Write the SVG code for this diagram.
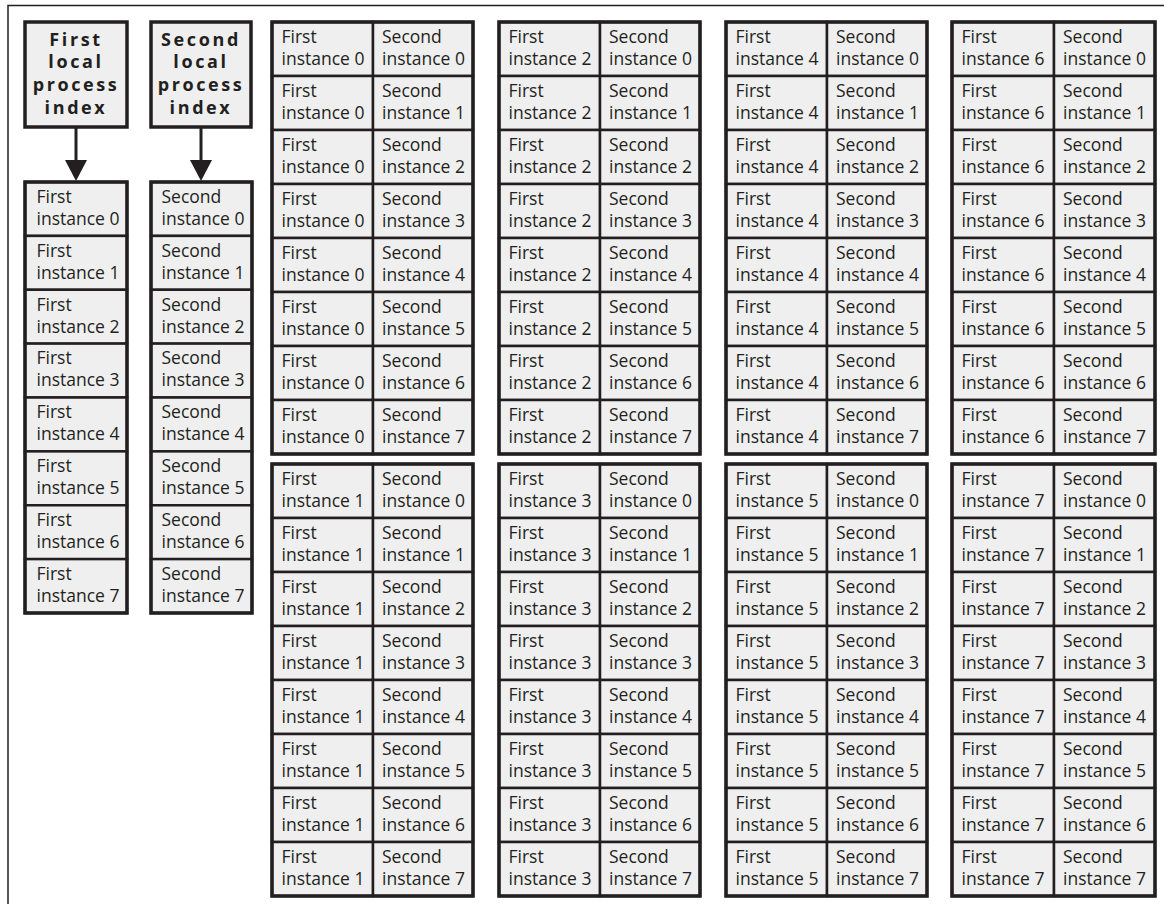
<svg xmlns="http://www.w3.org/2000/svg" width="1164" height="904" viewBox="0 0 1164 904">
<style>
.c{fill:#efefef;stroke:#231f20;stroke-width:2.5}
.f{fill:none;stroke:#231f20;stroke-width:3.5}
.t{font-family:"Open Sans","Liberation Sans",sans-serif;font-size:17.5px;fill:#231f20}
.h{font-family:"Open Sans","Liberation Sans",sans-serif;font-size:18px;font-weight:bold;letter-spacing:2.6px;text-anchor:middle;fill:#231f20}
.w{stroke:#231f20;stroke-width:3;fill:none}
</style>
<rect width="1164" height="904" fill="#ffffff"/>
<!-- page frame -->
<path d="M8,904 V5.5 H1164" fill="none" stroke="#231f20" stroke-width="1.5"/>

<!-- index headers -->
<g id="first-index"><rect class="c" x="25" y="22" width="102" height="105" style="stroke-width:3.5"/><text class="h" x="76" y="45.5">First<tspan x="76" dy="22.9">local</tspan><tspan x="76" dy="22.9">process</tspan><tspan x="76" dy="22.9">index</tspan></text></g>
<g id="second-index"><rect class="c" x="151" y="22" width="100" height="105" style="stroke-width:3.5"/><text class="h" x="201" y="45.5">Second<tspan x="201" dy="22.9">local</tspan><tspan x="201" dy="22.9">process</tspan><tspan x="201" dy="22.9">index</tspan></text></g>

<!-- connectors -->
<g id="connectors">
<line class="w" x1="76" y1="127" x2="76" y2="164"/><polygon points="65,160 87,160 76,181" fill="#231f20"/>
<line class="w" x1="201" y1="127" x2="201" y2="164"/><polygon points="190,160 212,160 201,181" fill="#231f20"/>
</g>

<!-- first instance column -->
<g id="first-list">
<g id="f0"><rect class="c" x="25" y="182" width="102" height="53.9"/><text class="t" x="36.5" y="202.8">First<tspan x="36.5" dy="22">instance 0</tspan></text></g>
<g id="f1"><rect class="c" x="25" y="235.9" width="102" height="53.9"/><text class="t" x="36.5" y="256.7">First<tspan x="36.5" dy="22">instance 1</tspan></text></g>
<g id="f2"><rect class="c" x="25" y="289.75" width="102" height="53.9"/><text class="t" x="36.5" y="310.6">First<tspan x="36.5" dy="22">instance 2</tspan></text></g>
<g id="f3"><rect class="c" x="25" y="343.6" width="102" height="53.9"/><text class="t" x="36.5" y="364.4">First<tspan x="36.5" dy="22">instance 3</tspan></text></g>
<g id="f4"><rect class="c" x="25" y="397.5" width="102" height="53.9"/><text class="t" x="36.5" y="418.3">First<tspan x="36.5" dy="22">instance 4</tspan></text></g>
<g id="f5"><rect class="c" x="25" y="451.4" width="102" height="53.9"/><text class="t" x="36.5" y="472.2">First<tspan x="36.5" dy="22">instance 5</tspan></text></g>
<g id="f6"><rect class="c" x="25" y="505.25" width="102" height="53.9"/><text class="t" x="36.5" y="526.1">First<tspan x="36.5" dy="22">instance 6</tspan></text></g>
<g id="f7"><rect class="c" x="25" y="559.1" width="102" height="53.9"/><text class="t" x="36.5" y="579.9">First<tspan x="36.5" dy="22">instance 7</tspan></text></g>
<rect class="f" x="25" y="182" width="102" height="431"/>
</g>

<!-- second instance column -->
<g id="second-list">
<g id="s0"><rect class="c" x="151" y="182" width="101" height="53.9"/><text class="t" x="161.5" y="202.8">Second<tspan x="161.5" dy="22">instance 0</tspan></text></g>
<g id="s1"><rect class="c" x="151" y="235.9" width="101" height="53.9"/><text class="t" x="161.5" y="256.7">Second<tspan x="161.5" dy="22">instance 1</tspan></text></g>
<g id="s2"><rect class="c" x="151" y="289.75" width="101" height="53.9"/><text class="t" x="161.5" y="310.6">Second<tspan x="161.5" dy="22">instance 2</tspan></text></g>
<g id="s3"><rect class="c" x="151" y="343.6" width="101" height="53.9"/><text class="t" x="161.5" y="364.4">Second<tspan x="161.5" dy="22">instance 3</tspan></text></g>
<g id="s4"><rect class="c" x="151" y="397.5" width="101" height="53.9"/><text class="t" x="161.5" y="418.3">Second<tspan x="161.5" dy="22">instance 4</tspan></text></g>
<g id="s5"><rect class="c" x="151" y="451.4" width="101" height="53.9"/><text class="t" x="161.5" y="472.2">Second<tspan x="161.5" dy="22">instance 5</tspan></text></g>
<g id="s6"><rect class="c" x="151" y="505.25" width="101" height="53.9"/><text class="t" x="161.5" y="526.1">Second<tspan x="161.5" dy="22">instance 6</tspan></text></g>
<g id="s7"><rect class="c" x="151" y="559.1" width="101" height="53.9"/><text class="t" x="161.5" y="579.9">Second<tspan x="161.5" dy="22">instance 7</tspan></text></g>
<rect class="f" x="151" y="182" width="101" height="431"/>
</g>

<!-- pair block: first instance 0 -->
<g id="pairs-0">
<g id="p0-0"><rect class="c" x="272" y="22" width="101" height="54"/><rect class="c" x="373" y="22" width="100" height="54"/><text class="t" x="281.5" y="43.3">First<tspan x="281.5" dy="22">instance 0</tspan></text><text class="t" x="382" y="43.3">Second<tspan x="382" dy="22">instance 0</tspan></text></g>
<g id="p0-1"><rect class="c" x="272" y="76" width="101" height="54"/><rect class="c" x="373" y="76" width="100" height="54"/><text class="t" x="281.5" y="97.3">First<tspan x="281.5" dy="22">instance 0</tspan></text><text class="t" x="382" y="97.3">Second<tspan x="382" dy="22">instance 1</tspan></text></g>
<g id="p0-2"><rect class="c" x="272" y="130" width="101" height="54"/><rect class="c" x="373" y="130" width="100" height="54"/><text class="t" x="281.5" y="151.3">First<tspan x="281.5" dy="22">instance 0</tspan></text><text class="t" x="382" y="151.3">Second<tspan x="382" dy="22">instance 2</tspan></text></g>
<g id="p0-3"><rect class="c" x="272" y="184" width="101" height="54"/><rect class="c" x="373" y="184" width="100" height="54"/><text class="t" x="281.5" y="205.3">First<tspan x="281.5" dy="22">instance 0</tspan></text><text class="t" x="382" y="205.3">Second<tspan x="382" dy="22">instance 3</tspan></text></g>
<g id="p0-4"><rect class="c" x="272" y="238" width="101" height="54"/><rect class="c" x="373" y="238" width="100" height="54"/><text class="t" x="281.5" y="259.3">First<tspan x="281.5" dy="22">instance 0</tspan></text><text class="t" x="382" y="259.3">Second<tspan x="382" dy="22">instance 4</tspan></text></g>
<g id="p0-5"><rect class="c" x="272" y="292" width="101" height="54"/><rect class="c" x="373" y="292" width="100" height="54"/><text class="t" x="281.5" y="313.3">First<tspan x="281.5" dy="22">instance 0</tspan></text><text class="t" x="382" y="313.3">Second<tspan x="382" dy="22">instance 5</tspan></text></g>
<g id="p0-6"><rect class="c" x="272" y="346" width="101" height="54"/><rect class="c" x="373" y="346" width="100" height="54"/><text class="t" x="281.5" y="367.3">First<tspan x="281.5" dy="22">instance 0</tspan></text><text class="t" x="382" y="367.3">Second<tspan x="382" dy="22">instance 6</tspan></text></g>
<g id="p0-7"><rect class="c" x="272" y="400" width="101" height="54"/><rect class="c" x="373" y="400" width="100" height="54"/><text class="t" x="281.5" y="421.3">First<tspan x="281.5" dy="22">instance 0</tspan></text><text class="t" x="382" y="421.3">Second<tspan x="382" dy="22">instance 7</tspan></text></g>
<rect class="f" x="272" y="22" width="201" height="432"/>
</g>

<!-- pair block: first instance 1 -->
<g id="pairs-1">
<g id="p1-0"><rect class="c" x="272" y="464" width="101" height="54"/><rect class="c" x="373" y="464" width="100" height="54"/><text class="t" x="281.5" y="485.3">First<tspan x="281.5" dy="22">instance 1</tspan></text><text class="t" x="382" y="485.3">Second<tspan x="382" dy="22">instance 0</tspan></text></g>
<g id="p1-1"><rect class="c" x="272" y="518" width="101" height="54"/><rect class="c" x="373" y="518" width="100" height="54"/><text class="t" x="281.5" y="539.3">First<tspan x="281.5" dy="22">instance 1</tspan></text><text class="t" x="382" y="539.3">Second<tspan x="382" dy="22">instance 1</tspan></text></g>
<g id="p1-2"><rect class="c" x="272" y="572" width="101" height="54"/><rect class="c" x="373" y="572" width="100" height="54"/><text class="t" x="281.5" y="593.3">First<tspan x="281.5" dy="22">instance 1</tspan></text><text class="t" x="382" y="593.3">Second<tspan x="382" dy="22">instance 2</tspan></text></g>
<g id="p1-3"><rect class="c" x="272" y="626" width="101" height="54"/><rect class="c" x="373" y="626" width="100" height="54"/><text class="t" x="281.5" y="647.3">First<tspan x="281.5" dy="22">instance 1</tspan></text><text class="t" x="382" y="647.3">Second<tspan x="382" dy="22">instance 3</tspan></text></g>
<g id="p1-4"><rect class="c" x="272" y="680" width="101" height="54"/><rect class="c" x="373" y="680" width="100" height="54"/><text class="t" x="281.5" y="701.3">First<tspan x="281.5" dy="22">instance 1</tspan></text><text class="t" x="382" y="701.3">Second<tspan x="382" dy="22">instance 4</tspan></text></g>
<g id="p1-5"><rect class="c" x="272" y="734" width="101" height="54"/><rect class="c" x="373" y="734" width="100" height="54"/><text class="t" x="281.5" y="755.3">First<tspan x="281.5" dy="22">instance 1</tspan></text><text class="t" x="382" y="755.3">Second<tspan x="382" dy="22">instance 5</tspan></text></g>
<g id="p1-6"><rect class="c" x="272" y="788" width="101" height="54"/><rect class="c" x="373" y="788" width="100" height="54"/><text class="t" x="281.5" y="809.3">First<tspan x="281.5" dy="22">instance 1</tspan></text><text class="t" x="382" y="809.3">Second<tspan x="382" dy="22">instance 6</tspan></text></g>
<g id="p1-7"><rect class="c" x="272" y="842" width="101" height="54"/><rect class="c" x="373" y="842" width="100" height="54"/><text class="t" x="281.5" y="863.3">First<tspan x="281.5" dy="22">instance 1</tspan></text><text class="t" x="382" y="863.3">Second<tspan x="382" dy="22">instance 7</tspan></text></g>
<rect class="f" x="272" y="464" width="201" height="432"/>
</g>

<!-- pair block: first instance 2 -->
<g id="pairs-2">
<g id="p2-0"><rect class="c" x="499" y="22" width="101" height="54"/><rect class="c" x="600" y="22" width="100" height="54"/><text class="t" x="508.5" y="43.3">First<tspan x="508.5" dy="22">instance 2</tspan></text><text class="t" x="609" y="43.3">Second<tspan x="609" dy="22">instance 0</tspan></text></g>
<g id="p2-1"><rect class="c" x="499" y="76" width="101" height="54"/><rect class="c" x="600" y="76" width="100" height="54"/><text class="t" x="508.5" y="97.3">First<tspan x="508.5" dy="22">instance 2</tspan></text><text class="t" x="609" y="97.3">Second<tspan x="609" dy="22">instance 1</tspan></text></g>
<g id="p2-2"><rect class="c" x="499" y="130" width="101" height="54"/><rect class="c" x="600" y="130" width="100" height="54"/><text class="t" x="508.5" y="151.3">First<tspan x="508.5" dy="22">instance 2</tspan></text><text class="t" x="609" y="151.3">Second<tspan x="609" dy="22">instance 2</tspan></text></g>
<g id="p2-3"><rect class="c" x="499" y="184" width="101" height="54"/><rect class="c" x="600" y="184" width="100" height="54"/><text class="t" x="508.5" y="205.3">First<tspan x="508.5" dy="22">instance 2</tspan></text><text class="t" x="609" y="205.3">Second<tspan x="609" dy="22">instance 3</tspan></text></g>
<g id="p2-4"><rect class="c" x="499" y="238" width="101" height="54"/><rect class="c" x="600" y="238" width="100" height="54"/><text class="t" x="508.5" y="259.3">First<tspan x="508.5" dy="22">instance 2</tspan></text><text class="t" x="609" y="259.3">Second<tspan x="609" dy="22">instance 4</tspan></text></g>
<g id="p2-5"><rect class="c" x="499" y="292" width="101" height="54"/><rect class="c" x="600" y="292" width="100" height="54"/><text class="t" x="508.5" y="313.3">First<tspan x="508.5" dy="22">instance 2</tspan></text><text class="t" x="609" y="313.3">Second<tspan x="609" dy="22">instance 5</tspan></text></g>
<g id="p2-6"><rect class="c" x="499" y="346" width="101" height="54"/><rect class="c" x="600" y="346" width="100" height="54"/><text class="t" x="508.5" y="367.3">First<tspan x="508.5" dy="22">instance 2</tspan></text><text class="t" x="609" y="367.3">Second<tspan x="609" dy="22">instance 6</tspan></text></g>
<g id="p2-7"><rect class="c" x="499" y="400" width="101" height="54"/><rect class="c" x="600" y="400" width="100" height="54"/><text class="t" x="508.5" y="421.3">First<tspan x="508.5" dy="22">instance 2</tspan></text><text class="t" x="609" y="421.3">Second<tspan x="609" dy="22">instance 7</tspan></text></g>
<rect class="f" x="499" y="22" width="201" height="432"/>
</g>

<!-- pair block: first instance 3 -->
<g id="pairs-3">
<g id="p3-0"><rect class="c" x="499" y="464" width="101" height="54"/><rect class="c" x="600" y="464" width="100" height="54"/><text class="t" x="508.5" y="485.3">First<tspan x="508.5" dy="22">instance 3</tspan></text><text class="t" x="609" y="485.3">Second<tspan x="609" dy="22">instance 0</tspan></text></g>
<g id="p3-1"><rect class="c" x="499" y="518" width="101" height="54"/><rect class="c" x="600" y="518" width="100" height="54"/><text class="t" x="508.5" y="539.3">First<tspan x="508.5" dy="22">instance 3</tspan></text><text class="t" x="609" y="539.3">Second<tspan x="609" dy="22">instance 1</tspan></text></g>
<g id="p3-2"><rect class="c" x="499" y="572" width="101" height="54"/><rect class="c" x="600" y="572" width="100" height="54"/><text class="t" x="508.5" y="593.3">First<tspan x="508.5" dy="22">instance 3</tspan></text><text class="t" x="609" y="593.3">Second<tspan x="609" dy="22">instance 2</tspan></text></g>
<g id="p3-3"><rect class="c" x="499" y="626" width="101" height="54"/><rect class="c" x="600" y="626" width="100" height="54"/><text class="t" x="508.5" y="647.3">First<tspan x="508.5" dy="22">instance 3</tspan></text><text class="t" x="609" y="647.3">Second<tspan x="609" dy="22">instance 3</tspan></text></g>
<g id="p3-4"><rect class="c" x="499" y="680" width="101" height="54"/><rect class="c" x="600" y="680" width="100" height="54"/><text class="t" x="508.5" y="701.3">First<tspan x="508.5" dy="22">instance 3</tspan></text><text class="t" x="609" y="701.3">Second<tspan x="609" dy="22">instance 4</tspan></text></g>
<g id="p3-5"><rect class="c" x="499" y="734" width="101" height="54"/><rect class="c" x="600" y="734" width="100" height="54"/><text class="t" x="508.5" y="755.3">First<tspan x="508.5" dy="22">instance 3</tspan></text><text class="t" x="609" y="755.3">Second<tspan x="609" dy="22">instance 5</tspan></text></g>
<g id="p3-6"><rect class="c" x="499" y="788" width="101" height="54"/><rect class="c" x="600" y="788" width="100" height="54"/><text class="t" x="508.5" y="809.3">First<tspan x="508.5" dy="22">instance 3</tspan></text><text class="t" x="609" y="809.3">Second<tspan x="609" dy="22">instance 6</tspan></text></g>
<g id="p3-7"><rect class="c" x="499" y="842" width="101" height="54"/><rect class="c" x="600" y="842" width="100" height="54"/><text class="t" x="508.5" y="863.3">First<tspan x="508.5" dy="22">instance 3</tspan></text><text class="t" x="609" y="863.3">Second<tspan x="609" dy="22">instance 7</tspan></text></g>
<rect class="f" x="499" y="464" width="201" height="432"/>
</g>

<!-- pair block: first instance 4 -->
<g id="pairs-4">
<g id="p4-0"><rect class="c" x="726" y="22" width="101" height="54"/><rect class="c" x="827" y="22" width="100" height="54"/><text class="t" x="735.5" y="43.3">First<tspan x="735.5" dy="22">instance 4</tspan></text><text class="t" x="836" y="43.3">Second<tspan x="836" dy="22">instance 0</tspan></text></g>
<g id="p4-1"><rect class="c" x="726" y="76" width="101" height="54"/><rect class="c" x="827" y="76" width="100" height="54"/><text class="t" x="735.5" y="97.3">First<tspan x="735.5" dy="22">instance 4</tspan></text><text class="t" x="836" y="97.3">Second<tspan x="836" dy="22">instance 1</tspan></text></g>
<g id="p4-2"><rect class="c" x="726" y="130" width="101" height="54"/><rect class="c" x="827" y="130" width="100" height="54"/><text class="t" x="735.5" y="151.3">First<tspan x="735.5" dy="22">instance 4</tspan></text><text class="t" x="836" y="151.3">Second<tspan x="836" dy="22">instance 2</tspan></text></g>
<g id="p4-3"><rect class="c" x="726" y="184" width="101" height="54"/><rect class="c" x="827" y="184" width="100" height="54"/><text class="t" x="735.5" y="205.3">First<tspan x="735.5" dy="22">instance 4</tspan></text><text class="t" x="836" y="205.3">Second<tspan x="836" dy="22">instance 3</tspan></text></g>
<g id="p4-4"><rect class="c" x="726" y="238" width="101" height="54"/><rect class="c" x="827" y="238" width="100" height="54"/><text class="t" x="735.5" y="259.3">First<tspan x="735.5" dy="22">instance 4</tspan></text><text class="t" x="836" y="259.3">Second<tspan x="836" dy="22">instance 4</tspan></text></g>
<g id="p4-5"><rect class="c" x="726" y="292" width="101" height="54"/><rect class="c" x="827" y="292" width="100" height="54"/><text class="t" x="735.5" y="313.3">First<tspan x="735.5" dy="22">instance 4</tspan></text><text class="t" x="836" y="313.3">Second<tspan x="836" dy="22">instance 5</tspan></text></g>
<g id="p4-6"><rect class="c" x="726" y="346" width="101" height="54"/><rect class="c" x="827" y="346" width="100" height="54"/><text class="t" x="735.5" y="367.3">First<tspan x="735.5" dy="22">instance 4</tspan></text><text class="t" x="836" y="367.3">Second<tspan x="836" dy="22">instance 6</tspan></text></g>
<g id="p4-7"><rect class="c" x="726" y="400" width="101" height="54"/><rect class="c" x="827" y="400" width="100" height="54"/><text class="t" x="735.5" y="421.3">First<tspan x="735.5" dy="22">instance 4</tspan></text><text class="t" x="836" y="421.3">Second<tspan x="836" dy="22">instance 7</tspan></text></g>
<rect class="f" x="726" y="22" width="201" height="432"/>
</g>

<!-- pair block: first instance 5 -->
<g id="pairs-5">
<g id="p5-0"><rect class="c" x="726" y="464" width="101" height="54"/><rect class="c" x="827" y="464" width="100" height="54"/><text class="t" x="735.5" y="485.3">First<tspan x="735.5" dy="22">instance 5</tspan></text><text class="t" x="836" y="485.3">Second<tspan x="836" dy="22">instance 0</tspan></text></g>
<g id="p5-1"><rect class="c" x="726" y="518" width="101" height="54"/><rect class="c" x="827" y="518" width="100" height="54"/><text class="t" x="735.5" y="539.3">First<tspan x="735.5" dy="22">instance 5</tspan></text><text class="t" x="836" y="539.3">Second<tspan x="836" dy="22">instance 1</tspan></text></g>
<g id="p5-2"><rect class="c" x="726" y="572" width="101" height="54"/><rect class="c" x="827" y="572" width="100" height="54"/><text class="t" x="735.5" y="593.3">First<tspan x="735.5" dy="22">instance 5</tspan></text><text class="t" x="836" y="593.3">Second<tspan x="836" dy="22">instance 2</tspan></text></g>
<g id="p5-3"><rect class="c" x="726" y="626" width="101" height="54"/><rect class="c" x="827" y="626" width="100" height="54"/><text class="t" x="735.5" y="647.3">First<tspan x="735.5" dy="22">instance 5</tspan></text><text class="t" x="836" y="647.3">Second<tspan x="836" dy="22">instance 3</tspan></text></g>
<g id="p5-4"><rect class="c" x="726" y="680" width="101" height="54"/><rect class="c" x="827" y="680" width="100" height="54"/><text class="t" x="735.5" y="701.3">First<tspan x="735.5" dy="22">instance 5</tspan></text><text class="t" x="836" y="701.3">Second<tspan x="836" dy="22">instance 4</tspan></text></g>
<g id="p5-5"><rect class="c" x="726" y="734" width="101" height="54"/><rect class="c" x="827" y="734" width="100" height="54"/><text class="t" x="735.5" y="755.3">First<tspan x="735.5" dy="22">instance 5</tspan></text><text class="t" x="836" y="755.3">Second<tspan x="836" dy="22">instance 5</tspan></text></g>
<g id="p5-6"><rect class="c" x="726" y="788" width="101" height="54"/><rect class="c" x="827" y="788" width="100" height="54"/><text class="t" x="735.5" y="809.3">First<tspan x="735.5" dy="22">instance 5</tspan></text><text class="t" x="836" y="809.3">Second<tspan x="836" dy="22">instance 6</tspan></text></g>
<g id="p5-7"><rect class="c" x="726" y="842" width="101" height="54"/><rect class="c" x="827" y="842" width="100" height="54"/><text class="t" x="735.5" y="863.3">First<tspan x="735.5" dy="22">instance 5</tspan></text><text class="t" x="836" y="863.3">Second<tspan x="836" dy="22">instance 7</tspan></text></g>
<rect class="f" x="726" y="464" width="201" height="432"/>
</g>

<!-- pair block: first instance 6 -->
<g id="pairs-6">
<g id="p6-0"><rect class="c" x="952" y="22" width="102" height="54"/><rect class="c" x="1054" y="22" width="101" height="54"/><text class="t" x="961.5" y="43.3">First<tspan x="961.5" dy="22">instance 6</tspan></text><text class="t" x="1063" y="43.3">Second<tspan x="1063" dy="22">instance 0</tspan></text></g>
<g id="p6-1"><rect class="c" x="952" y="76" width="102" height="54"/><rect class="c" x="1054" y="76" width="101" height="54"/><text class="t" x="961.5" y="97.3">First<tspan x="961.5" dy="22">instance 6</tspan></text><text class="t" x="1063" y="97.3">Second<tspan x="1063" dy="22">instance 1</tspan></text></g>
<g id="p6-2"><rect class="c" x="952" y="130" width="102" height="54"/><rect class="c" x="1054" y="130" width="101" height="54"/><text class="t" x="961.5" y="151.3">First<tspan x="961.5" dy="22">instance 6</tspan></text><text class="t" x="1063" y="151.3">Second<tspan x="1063" dy="22">instance 2</tspan></text></g>
<g id="p6-3"><rect class="c" x="952" y="184" width="102" height="54"/><rect class="c" x="1054" y="184" width="101" height="54"/><text class="t" x="961.5" y="205.3">First<tspan x="961.5" dy="22">instance 6</tspan></text><text class="t" x="1063" y="205.3">Second<tspan x="1063" dy="22">instance 3</tspan></text></g>
<g id="p6-4"><rect class="c" x="952" y="238" width="102" height="54"/><rect class="c" x="1054" y="238" width="101" height="54"/><text class="t" x="961.5" y="259.3">First<tspan x="961.5" dy="22">instance 6</tspan></text><text class="t" x="1063" y="259.3">Second<tspan x="1063" dy="22">instance 4</tspan></text></g>
<g id="p6-5"><rect class="c" x="952" y="292" width="102" height="54"/><rect class="c" x="1054" y="292" width="101" height="54"/><text class="t" x="961.5" y="313.3">First<tspan x="961.5" dy="22">instance 6</tspan></text><text class="t" x="1063" y="313.3">Second<tspan x="1063" dy="22">instance 5</tspan></text></g>
<g id="p6-6"><rect class="c" x="952" y="346" width="102" height="54"/><rect class="c" x="1054" y="346" width="101" height="54"/><text class="t" x="961.5" y="367.3">First<tspan x="961.5" dy="22">instance 6</tspan></text><text class="t" x="1063" y="367.3">Second<tspan x="1063" dy="22">instance 6</tspan></text></g>
<g id="p6-7"><rect class="c" x="952" y="400" width="102" height="54"/><rect class="c" x="1054" y="400" width="101" height="54"/><text class="t" x="961.5" y="421.3">First<tspan x="961.5" dy="22">instance 6</tspan></text><text class="t" x="1063" y="421.3">Second<tspan x="1063" dy="22">instance 7</tspan></text></g>
<rect class="f" x="952" y="22" width="203" height="432"/>
</g>

<!-- pair block: first instance 7 -->
<g id="pairs-7">
<g id="p7-0"><rect class="c" x="952" y="464" width="102" height="54"/><rect class="c" x="1054" y="464" width="101" height="54"/><text class="t" x="961.5" y="485.3">First<tspan x="961.5" dy="22">instance 7</tspan></text><text class="t" x="1063" y="485.3">Second<tspan x="1063" dy="22">instance 0</tspan></text></g>
<g id="p7-1"><rect class="c" x="952" y="518" width="102" height="54"/><rect class="c" x="1054" y="518" width="101" height="54"/><text class="t" x="961.5" y="539.3">First<tspan x="961.5" dy="22">instance 7</tspan></text><text class="t" x="1063" y="539.3">Second<tspan x="1063" dy="22">instance 1</tspan></text></g>
<g id="p7-2"><rect class="c" x="952" y="572" width="102" height="54"/><rect class="c" x="1054" y="572" width="101" height="54"/><text class="t" x="961.5" y="593.3">First<tspan x="961.5" dy="22">instance 7</tspan></text><text class="t" x="1063" y="593.3">Second<tspan x="1063" dy="22">instance 2</tspan></text></g>
<g id="p7-3"><rect class="c" x="952" y="626" width="102" height="54"/><rect class="c" x="1054" y="626" width="101" height="54"/><text class="t" x="961.5" y="647.3">First<tspan x="961.5" dy="22">instance 7</tspan></text><text class="t" x="1063" y="647.3">Second<tspan x="1063" dy="22">instance 3</tspan></text></g>
<g id="p7-4"><rect class="c" x="952" y="680" width="102" height="54"/><rect class="c" x="1054" y="680" width="101" height="54"/><text class="t" x="961.5" y="701.3">First<tspan x="961.5" dy="22">instance 7</tspan></text><text class="t" x="1063" y="701.3">Second<tspan x="1063" dy="22">instance 4</tspan></text></g>
<g id="p7-5"><rect class="c" x="952" y="734" width="102" height="54"/><rect class="c" x="1054" y="734" width="101" height="54"/><text class="t" x="961.5" y="755.3">First<tspan x="961.5" dy="22">instance 7</tspan></text><text class="t" x="1063" y="755.3">Second<tspan x="1063" dy="22">instance 5</tspan></text></g>
<g id="p7-6"><rect class="c" x="952" y="788" width="102" height="54"/><rect class="c" x="1054" y="788" width="101" height="54"/><text class="t" x="961.5" y="809.3">First<tspan x="961.5" dy="22">instance 7</tspan></text><text class="t" x="1063" y="809.3">Second<tspan x="1063" dy="22">instance 6</tspan></text></g>
<g id="p7-7"><rect class="c" x="952" y="842" width="102" height="54"/><rect class="c" x="1054" y="842" width="101" height="54"/><text class="t" x="961.5" y="863.3">First<tspan x="961.5" dy="22">instance 7</tspan></text><text class="t" x="1063" y="863.3">Second<tspan x="1063" dy="22">instance 7</tspan></text></g>
<rect class="f" x="952" y="464" width="203" height="432"/>
</g>
</svg>
